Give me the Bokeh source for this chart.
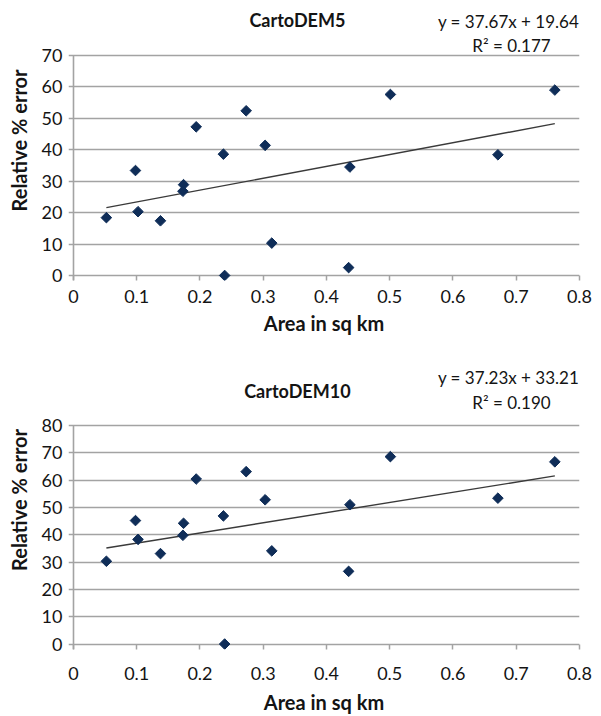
import math
from bokeh.plotting import figure
from bokeh.layouts import column
from bokeh.models import Label, FixedTicker, CustomJSTickFormatter, ColumnDataSource, Range1d
from bokeh.embed import file_html
from bokeh.resources import INLINE

# ---- data ----
area = [0.052, 0.098, 0.102, 0.1375, 0.174, 0.173, 0.194, 0.237, 0.239, 0.273,
        0.303, 0.3135, 0.437, 0.435, 0.501, 0.671, 0.761]
err_dem5 = [18.4, 33.4, 20.3, 17.4, 28.9, 26.8, 47.3, 38.6, 0.0, 52.4,
            41.4, 10.3, 34.5, 2.5, 57.6, 38.4, 59.0]
err_dem10 = [30.3, 45.2, 38.3, 33.1, 44.2, 39.8, 60.4, 46.9, 0.0, 63.1,
             52.8, 34.1, 51.0, 26.6, 68.6, 53.4, 66.7]

fit5 = (37.67, 19.64)
fit10 = (37.23, 33.21)
r2_5 = "0.177"
r2_10 = "0.190"

x_ticks = [0, 0.1, 0.2, 0.3, 0.4, 0.5, 0.6, 0.7, 0.8]
x_tick_labels = ["0", "0.1", "0.2", "0.3", "0.4", "0.5", "0.6", "0.7", "0.8"]
y_ticks5 = [0, 10, 20, 30, 40, 50, 60, 70]
y_ticks10 = [0, 10, 20, 30, 40, 50, 60, 70, 80]

FONT = "Lato"
GRID = "#a3a3a3"
MARK = "#0f2d58"
TXT = "#141414"


def make_chart(title, yvals, fit, r2, yticks, ystart, yend, height, bottom,
               xstand, xlab_stand, title_y, eq_y, r2_y):
    p = figure(width=601, height=height, output_backend="svg", toolbar_location=None,
               x_range=Range1d(-0.0079, 0.8), y_range=Range1d(ystart, yend),
               min_border_left=68, min_border_right=22,
               min_border_top=0, min_border_bottom=bottom)
    p.outline_line_color = None
    p.background_fill_color = "white"
    p.border_fill_color = "white"

    # grid (extends a little left of the value axis, like Excel's tick marks)
    p.xgrid.grid_line_color = None
    p.ygrid.ticker = FixedTicker(ticks=yticks)
    p.ygrid.grid_line_color = GRID
    p.ygrid.grid_line_width = 1.6

    # x axis
    xa = p.xaxis[0]
    xa.ticker = FixedTicker(ticks=x_ticks)
    xa.formatter = CustomJSTickFormatter(args=dict(xt=x_ticks, xl=x_tick_labels), code="""
        for (let i = 0; i < xt.length; i++) {
            if (Math.abs(xt[i] - tick) < 1e-9) return xl[i];
        }
        return '';
    """)
    xa.axis_line_color = None
    xa.major_tick_in = 5
    xa.major_tick_out = 0
    xa.major_tick_line_color = GRID
    xa.major_tick_line_width = 1.5
    xa.minor_tick_line_color = None
    xa.major_label_standoff = xstand
    xa.major_label_text_font = FONT
    xa.major_label_text_font_size = "18px"
    xa.major_label_text_color = TXT
    xa.axis_label = "Area in sq km"
    xa.axis_label_text_font = FONT
    xa.axis_label_text_font_style = "bold"
    xa.axis_label_text_font_size = "20px"
    xa.axis_label_text_color = TXT
    xa.axis_label_standoff = xlab_stand

    # y axis
    ya = p.yaxis[0]
    ya.ticker = FixedTicker(ticks=yticks)
    ya.axis_line_color = None
    ya.major_tick_line_color = None
    ya.minor_tick_line_color = None
    ya.major_tick_in = 0
    ya.major_tick_out = 0
    ya.major_label_standoff = 6
    ya.major_label_text_font = FONT
    ya.major_label_text_font_size = "18px"
    ya.major_label_text_color = TXT
    ya.axis_label = "Relative % error"
    ya.axis_label_text_font = FONT
    ya.axis_label_text_font_style = "bold"
    ya.axis_label_text_font_size = "20px"
    ya.axis_label_text_color = TXT
    ya.axis_label_standoff = 8

    # value-axis line at x = 0
    p.segment(x0=[0], y0=[ystart], x1=[0], y1=[yticks[-1]],
              line_color=GRID, line_width=1.6)

    # trend line
    x0, x1 = min(area), max(area)
    p.line([x0, x1], [fit[0] * x0 + fit[1], fit[0] * x1 + fit[1]],
           line_color="#3a3a3a", line_width=1.4)

    # points
    src = ColumnDataSource(dict(x=area, y=yvals))
    p.scatter("x", "y", source=src, marker="square", size=7.5, angle=math.pi / 4,
              fill_color=MARK, line_color=MARK)

    # texts
    p.add_layout(Label(x=0.354, y=title_y, text=title, text_font=FONT,
                       text_font_style="bold", text_font_size="18px",
                       text_align="center", text_baseline="middle", text_color=TXT))
    p.add_layout(Label(x=0.7995, y=eq_y, text="y = %.2fx + %.2f" % fit, text_font=FONT,
                       text_font_size="17px", text_align="right",
                       text_baseline="middle", text_color=TXT))
    p.add_layout(Label(x=0.6925, y=r2_y, text="R² = " + r2, text_font=FONT,
                       text_font_size="17px", text_align="center",
                       text_baseline="middle", text_color=TXT))
    return p


p1 = make_chart("CartoDEM5", err_dem5, fit5, r2_5, y_ticks5, -1.6, 87.5, 350, 70,
                xstand=9, xlab_stand=5, title_y=81.15, eq_y=80.8, r2_y=73.2)
p2 = make_chart("CartoDEM10", err_dem10, fit10, r2_10, y_ticks10, -2.0, 107.45, 366, 65,
                xstand=17, xlab_stand=7, title_y=92.5, eq_y=97.6, r2_y=88.5)

layout = column(p1, p2, spacing=0)
open("out.html", "w").write(file_html(layout, INLINE))
